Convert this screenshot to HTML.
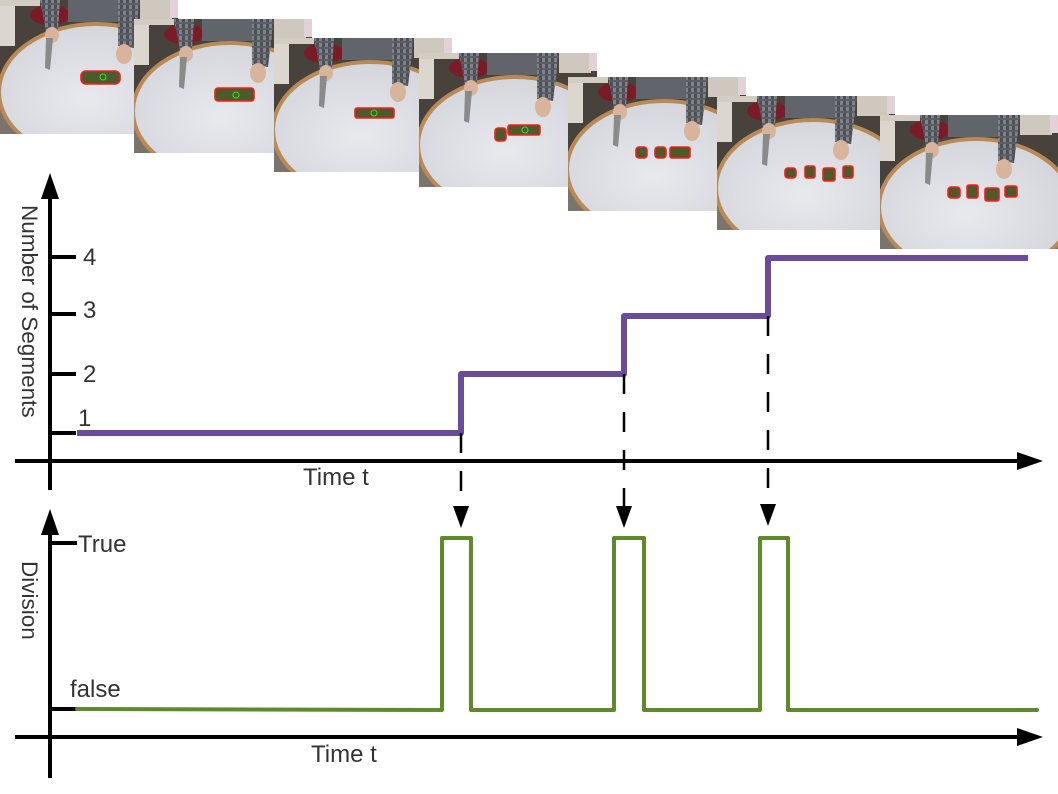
<!DOCTYPE html>
<html>
<head>
<meta charset="utf-8">
<style>
html,body{margin:0;padding:0;background:#fff;overflow:hidden;}
svg{display:block;}
text{font-family:"Liberation Sans",Arial,sans-serif;fill:#333;}
</style>
</head>
<body>
<svg width="1058" height="794" viewBox="0 0 1058 794" xmlns="http://www.w3.org/2000/svg">
<defs>
  <pattern id="pl" width="6" height="6" patternUnits="userSpaceOnUse">
    <rect width="6" height="6" fill="#80828a"/>
    <rect width="3" height="6" fill="#4d4f57"/>
    <rect width="6" height="2" y="3" fill="#5c5e66"/>
  </pattern>
  <radialGradient id="tg" cx="0.45" cy="0.55" r="0.6">
    <stop offset="0" stop-color="#e8e9ed"/>
    <stop offset="1" stop-color="#d3d4da"/>
  </radialGradient>
  <g id="bg">
    <rect width="178" height="134" fill="#48423c"/>
    <rect x="0" y="0" width="15" height="46" fill="#dcd7ce"/>
    <rect x="0" y="0" width="40" height="6" fill="#d2ccc2"/>
    <rect x="140" y="0" width="32" height="20" fill="#cfc8bf"/>
    <rect x="170" y="0" width="8" height="18" fill="#e2d2d8"/>
    <ellipse cx="50" cy="15" rx="20" ry="10" fill="#7a1b27"/>
    <rect x="68" y="0" width="52" height="22" fill="#62646c"/>
    <rect x="0" y="88" width="178" height="46" fill="#7a746c"/>
    <ellipse cx="96" cy="92" rx="97" ry="68" fill="url(#tg)" stroke="#b98a55" stroke-width="4"/>
    <polygon points="40,0 60,0 58,30 46,32" fill="url(#pl)"/>
    <polygon points="118,0 140,0 134,48 118,46" fill="url(#pl)"/>
    <ellipse cx="52" cy="35" rx="7" ry="8" fill="#d8b49c"/>
    <ellipse cx="124" cy="54" rx="8" ry="10" fill="#d8b49c"/>
    <polygon points="46,38 53,38 50,70 45,68" fill="#8a8a8a"/>
  </g>
</defs>

<!-- Photos -->
<svg x="0" y="0" width="178" height="134" viewBox="0 0 178 134">
  <use href="#bg"/>
  <rect x="81" y="71" width="39" height="13" rx="5" fill="#4c5a2c" stroke="#ff1a1a" stroke-width="1.6"/>
  <circle cx="103" cy="77" r="3" fill="none" stroke="#22ee22" stroke-width="1"/>
</svg>
<svg x="134" y="19" width="178" height="134" viewBox="0 0 178 134">
  <use href="#bg"/>
  <rect x="81" y="69" width="39" height="13" rx="3" fill="#4c5a2c" stroke="#ff1a1a" stroke-width="1.6"/>
  <circle cx="102" cy="76" r="3" fill="none" stroke="#22ee22" stroke-width="1"/>
</svg>
<svg x="274" y="38" width="178" height="134" viewBox="0 0 178 134">
  <use href="#bg"/>
  <rect x="81" y="70" width="39" height="10" rx="2" fill="#4c5a2c" stroke="#ff1a1a" stroke-width="1.6"/>
  <circle cx="100" cy="75" r="3" fill="none" stroke="#22ee22" stroke-width="1"/>
</svg>
<svg x="419" y="53" width="178" height="134" viewBox="0 0 178 134">
  <use href="#bg"/>
  <rect x="76" y="75" width="11" height="13" rx="3" fill="#4c5a2c" stroke="#ff1a1a" stroke-width="1.6"/>
  <rect x="89" y="72" width="32" height="10" rx="2" fill="#4c5a2c" stroke="#ff1a1a" stroke-width="1.6"/>
  <circle cx="106" cy="77" r="3" fill="none" stroke="#22ee22" stroke-width="1"/>
</svg>
<svg x="568" y="77" width="178" height="134" viewBox="0 0 178 134">
  <use href="#bg"/>
  <rect x="68" y="70" width="11" height="11" rx="3" fill="#4c5a2c" stroke="#ff1a1a" stroke-width="1.6"/>
  <rect x="87" y="70" width="11" height="11" rx="3" fill="#4c5a2c" stroke="#ff1a1a" stroke-width="1.6"/>
  <rect x="102" y="70" width="20" height="11" rx="2" fill="#4c5a2c" stroke="#ff1a1a" stroke-width="1.6"/>
</svg>
<svg x="717" y="96" width="178" height="134" viewBox="0 0 178 134">
  <use href="#bg"/>
  <rect x="68" y="72" width="11" height="10" rx="3" fill="#4c5a2c" stroke="#ff1a1a" stroke-width="1.6"/>
  <rect x="88" y="70" width="10" height="12" rx="2" fill="#4c5a2c" stroke="#ff1a1a" stroke-width="1.6"/>
  <rect x="106" y="72" width="12" height="13" rx="2" fill="#4c5a2c" stroke="#ff1a1a" stroke-width="1.6"/>
  <rect x="126" y="70" width="10" height="12" rx="2" fill="#4c5a2c" stroke="#ff1a1a" stroke-width="1.6"/>
</svg>
<svg x="880" y="115" width="178" height="134" viewBox="0 0 178 134">
  <use href="#bg"/>
  <rect x="68" y="72" width="12" height="11" rx="3" fill="#4c5a2c" stroke="#ff1a1a" stroke-width="1.6"/>
  <rect x="87" y="70" width="11" height="13" rx="2" fill="#4c5a2c" stroke="#ff1a1a" stroke-width="1.6"/>
  <rect x="105" y="73" width="14" height="13" rx="2" fill="#4c5a2c" stroke="#ff1a1a" stroke-width="1.6"/>
  <rect x="125" y="71" width="12" height="11" rx="2" fill="#4c5a2c" stroke="#ff1a1a" stroke-width="1.6"/>
</svg>

<!-- Upper chart axes -->
<line x1="50" y1="197" x2="50" y2="490" stroke="#000" stroke-width="4"/>
<polygon points="41,199 59,199 50,173" fill="#000"/>
<line x1="15" y1="461" x2="1019" y2="461" stroke="#000" stroke-width="4"/>
<polygon points="1017,452 1017,470 1043,461" fill="#000"/>
<g stroke="#000" stroke-width="4">
  <line x1="50" y1="257" x2="76" y2="257"/>
  <line x1="50" y1="314" x2="76" y2="314"/>
  <line x1="50" y1="374" x2="76" y2="374"/>
  <line x1="50" y1="433" x2="76" y2="433"/>
</g>
<text x="83" y="265" font-size="24">4</text>
<text x="83" y="318" font-size="24">3</text>
<text x="83" y="382" font-size="24">2</text>
<text x="78" y="426" font-size="24">1</text>
<text x="303" y="485" font-size="24">Time t</text>
<text transform="translate(22,205) rotate(90)" font-size="22.5">Number of Segments</text>

<!-- Purple step -->
<path d="M77,433 L461,433 L461,374 L624,374 L624,316 L768,316 L768,258 L1028,258" fill="none" stroke="#6b4c9a" stroke-width="6" stroke-linejoin="round"/>

<!-- Dashed arrows -->
<g stroke="#000" stroke-width="2.5" stroke-dasharray="20 18">
  <line x1="461" y1="433" x2="461" y2="506"/>
  <line x1="624" y1="374" x2="624" y2="508"/>
  <line x1="768" y1="316" x2="768" y2="504"/>
</g>
<polygon points="453,506 469,506 461,528" fill="#000"/>
<polygon points="616,506 632,506 624,528" fill="#000"/>
<polygon points="760,504 776,504 768,526" fill="#000"/>

<!-- Lower chart axes -->
<line x1="50" y1="533" x2="50" y2="778" stroke="#000" stroke-width="4"/>
<polygon points="41,535 59,535 50,509" fill="#000"/>
<line x1="15" y1="737" x2="1019" y2="737" stroke="#000" stroke-width="4"/>
<polygon points="1017,728 1017,746 1043,737" fill="#000"/>
<g stroke="#000" stroke-width="4">
  <line x1="50" y1="543" x2="77" y2="543"/>
  <line x1="50" y1="709" x2="77" y2="709"/>
</g>
<text x="78" y="552" font-size="24">True</text>
<text x="70" y="697" font-size="24">false</text>
<text x="311" y="762" font-size="24">Time t</text>
<text transform="translate(22,561) rotate(90)" font-size="22.5">Division</text>

<!-- Green pulses -->
<path d="M77,709 L442,710 L442,538 L471,538 L471,710 L614,710 L614,538 L644,538 L644,710 L760,710 L760,538 L788,538 L788,710 L1037,710" fill="none" stroke="#5f8a2c" stroke-width="4" stroke-linejoin="round" stroke-linecap="round"/>
</svg>
</body>
</html>
